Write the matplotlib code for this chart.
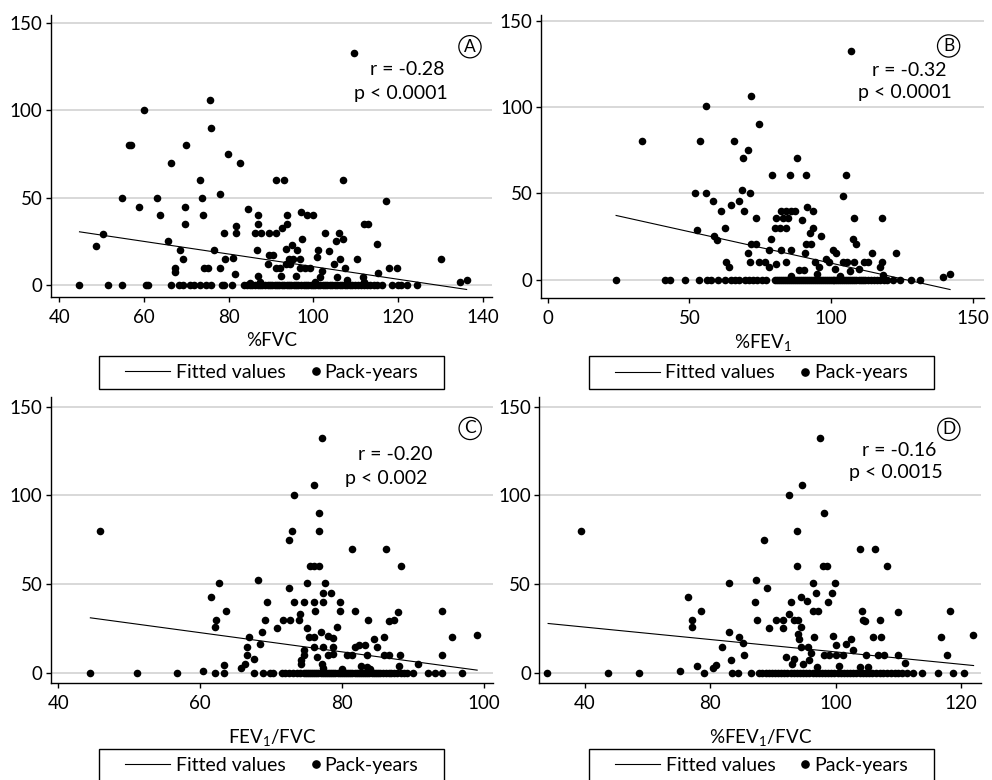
import numpy as np
import matplotlib.pyplot as plt
from matplotlib.patches import Rectangle
from matplotlib.lines import Line2D
from matplotlib.legend_handler import HandlerLine2D

plt.rcParams['font.family'] = ['Lato', 'DejaVu Sans']
plt.rcParams['mathtext.default'] = 'regular'
plt.rcParams['font.size'] = 13

# ---- panel A: %FVC vs pack-years ----
a_x = [109.7, 75.5, 60.0, 75.8, 56.4, 57.0, 70.0, 79.9, 66.5, 82.8, 73.2, 91.1, 93.0, 106.9,
       78.0, 54.8, 63.0, 73.7, 117.1, 58.9, 69.7, 84.7, 63.7, 74.0, 86.9, 93.8, 97.1, 98.6,
       100.0, 69.8, 81.7, 86.9, 93.8, 112.0, 112.8, 92.7, 78.8, 81.7, 86.3, 87.7, 89.5, 91.1,
       102.8, 106.0, 50.4, 65.7, 97.4, 105.3, 106.9, 48.8, 68.6, 76.6, 86.6, 93.6, 95.0, 96.1,
       101.1, 103.6, 115.1, 69.3, 79.1, 81.0, 89.5, 90.6, 94.3, 95.3, 96.9, 100.8, 110.4, 130.1,
       106.4, 67.4, 67.4, 74.1, 75.2, 78.0, 87.0, 91.1, 92.2, 89.2, 93.6, 94.5, 96.9, 98.0,
       99.3, 102.1, 104.8, 107.5, 119.7, 117.8, 81.5, 92.4, 95.8, 105.7, 115.2, 134.7, 136.2,
       101.5, 111.8, 100.5, 108.0, 112.0, 87.5, 85.0]
a_y = [132.5, 106, 100, 90, 80, 80, 80, 75, 70, 70, 60, 60, 60, 60,
       52, 50, 50, 50, 48, 45, 45, 43.5, 40, 40, 40, 40, 42, 40,
       40, 35, 34, 35, 35, 35, 35, 33, 30, 30, 30, 30, 30, 30,
       30, 30, 29.5, 25.5, 26.5, 25.5, 26.5, 22.5, 20, 20, 20, 21, 23, 20,
       20, 19.5, 23.5, 15, 15, 15.5, 17.5, 17.5, 15, 15, 15, 16.5, 15, 15,
       15, 10, 7.5, 10, 10, 10, 5.5, 10, 10, 12.5, 12.5, 12.5, 10, 10,
       10, 8.5, 12.5, 10, 10, 10, 6.5, 5.5, 5.5, 5, 7, 1.8, 3.3,
       5, 5, 2, 3, 2, 2, 1.5]
a_zero = [44.8, 51.6, 54.9, 60.5, 60.9, 66.3, 68.4, 69.3, 71.0, 71.8, 73.3, 74.7, 75.9, 78.4,
          79.0, 80.8, 83.6, 84.3, 85.0, 85.6, 86.2, 86.9, 87.5, 88.0, 88.6, 89.2, 89.8, 90.3,
          90.9, 91.5, 92.0, 92.6, 93.1, 93.7, 94.3, 94.8, 95.4, 96.0, 96.5, 97.1, 97.7, 98.2,
          98.8, 99.4, 99.9, 100.5, 101.1, 101.6, 102.2, 102.8, 103.3, 103.9, 104.5, 105.1,
          105.7, 106.2, 106.8, 107.4, 108.0, 108.6, 109.2, 109.8, 110.5, 111.2, 111.9, 112.6,
          113.4, 114.3, 115.1, 116.2, 118.5, 119.9, 120.7, 122.1, 124.6]
a_fit_x = [44.8, 136.2]
a_fit_y = [30.6, -2.3]

# ---- panel B: %FEV1 vs pack-years ----
b_x = [107.1, 71.8, 55.8, 74.6, 33.1, 53.6, 65.6, 70.8, 68.9, 88.1, 79.3, 85.4, 91.1, 105.1,
       68.5, 52.0, 55.8, 71.2, 104.1, 58.4, 64.6, 67.5, 61.1, 69.2, 82.4, 84.1, 85.9, 87.3,
       91.5, 93.6, 73.4, 80.4, 82.9, 84.9, 89.8, 108.0, 117.9, 62.7, 52.7, 80.2, 81.9, 84.1,
       93.5, 92.4, 96.5, 58.8, 59.8, 78.7, 107.6, 108.8, 91.2, 92.8, 71.8, 73.4, 70.7, 78.0,
       82.4, 85.9, 90.9, 100.6, 101.8, 114.4, 122.9, 63.0, 64.1, 71.2, 74.7, 76.5, 78.2, 80.7,
       84.1, 88.8, 90.5, 94.4, 95.9, 98.2, 99.4, 104.1, 105.6, 108.2, 111.6, 112.9, 117.9,
       117.1, 110.0, 101.4, 106.5, 139.4, 141.8, 118.2, 86.0, 95.0, 103.0]
b_y = [132.5, 106.5, 100.5, 90.5, 80.5, 80.5, 80.5, 75, 70.5, 70.5, 60.5, 60.5, 60.5, 60.5,
       52, 50.5, 50.5, 50.5, 48.5, 45.5, 43.5, 45.5, 40, 40, 40, 40, 40, 40,
       42, 40, 35.5, 35.5, 35.5, 35.5, 34.5, 35.5, 35.5, 30, 29, 30, 30, 30,
       30, 27, 25.5, 25.5, 23, 23.5, 23.5, 20.5, 20.5, 20.5, 20.5, 20.5, 15.5, 17,
       17, 17, 15.5, 17, 15.5, 15.5, 15.5, 10, 7.5, 10, 10, 10, 7.5, 9,
       10, 5.5, 5.5, 10, 7.5, 12, 10, 10, 10, 10, 10, 10, 10,
       7.5, 6, 6, 5, 1.5, 3.5, 2.5, 2, 3, 2]
b_zero = [24.0, 41.2, 43.2, 48.4, 53.5, 56.3, 57.5, 60.0, 62.4, 64.8, 66.2, 67.6, 69.6, 71.0,
          72.4, 73.8, 75.5, 77.0, 80.2, 80.9, 81.6, 82.3, 83.0, 83.7, 84.4, 85.1, 85.8, 86.5,
          87.2, 87.9, 88.6, 89.3, 90.0, 90.7, 91.4, 92.1, 92.8, 93.5, 94.2, 94.9, 95.6, 96.3,
          97.0, 97.7, 98.4, 99.1, 99.8, 100.5, 101.2, 101.9, 102.6, 103.3, 104.0, 104.7,
          105.4, 106.1, 106.8, 107.5, 108.2, 108.9, 109.7, 110.5, 111.3, 112.1, 113.0, 114.0,
          115.0, 116.1, 117.3, 118.5, 119.7, 121.9, 124.4, 128.2, 131.5]
b_fit_x = [24.1, 142.0]
b_fit_y = [37.2, -5.8]

# ---- panel C: FEV1/FVC vs pack-years ----
c_x = [77.2, 76.1, 73.2, 76.8, 45.9, 73.0, 76.8, 72.6, 81.5, 86.2, 75.5, 76.1, 76.8, 88.4,
       68.1, 62.7, 75.1, 77.6, 72.5, 77.3, 78.4, 61.5, 69.4, 73.3, 74.6, 76.1, 77.3, 79.8,
       63.6, 81.9, 76.2, 79.7, 87.9, 94.2, 62.3, 62.1, 69.1, 71.7, 72.7, 73.9, 74.1, 83.7,
       86.6, 87.3, 79.3, 70.8, 75.1, 68.7, 77.0, 66.9, 75.4, 76.1, 78.1, 78.8, 84.5, 85.9,
       95.6, 99.1, 68.4, 74.6, 74.6, 74.3, 74.3, 76.1, 77.4, 78.8, 81.8, 82.4, 83.3, 85.0,
       66.6, 66.6, 66.4, 67.6, 65.8, 63.4, 80.7, 81.5, 83.6, 85.9, 86.6, 88.2, 90.8, 94.2,
       78.1, 78.8, 82.7, 83.5, 88.0, 76.5, 77.2, 77.4, 60.4, 80.0, 84.0]
c_y = [132.5, 106, 100.5, 90, 80, 80, 80, 75, 70, 70, 60, 60, 60, 60,
       52.5, 50.5, 50.5, 50.5, 48, 45, 45, 43, 40, 40, 40, 40, 40, 40,
       35, 35, 35, 35, 34, 35, 30, 26, 30, 30, 30, 30, 33, 30,
       29, 30, 26, 25, 25, 23, 23, 20, 20, 20, 20.5, 19.5, 19, 20,
       20, 21.5, 16.5, 13, 10, 7, 5, 14.5, 14.5, 14.5, 14.5, 15.5, 15.5, 14.5,
       14.5, 10, 5, 7.5, 2.5, 4.5, 10, 10, 10, 10, 10, 10, 5, 10,
       10, 10.5, 4, 3.5, 4, 9, 5, 2.5, 1, 2, 2]
c_zero = [44.4, 51.1, 56.7, 62.1, 63.4, 67.6, 68.9, 69.8, 70.3, 71.5, 72.0, 72.6, 73.1, 73.6,
          74.1, 74.6, 74.9, 75.2, 75.5, 75.8, 76.1, 76.4, 76.7, 77.0, 77.3, 77.6, 77.9, 78.2,
          78.5, 78.8, 79.1, 79.4, 79.7, 80.0, 80.3, 80.6, 80.9, 81.2, 81.5, 81.8, 82.1, 82.4,
          82.7, 83.0, 83.3, 83.6, 83.9, 84.2, 84.5, 84.8, 85.1, 85.4, 85.8, 86.2, 86.6, 87.0,
          87.4, 87.8, 88.3, 88.8, 89.2, 90.1, 92.2, 93.1, 94.2, 97.0]
c_fit_x = [44.5, 99.1]
c_fit_y = [31.0, 1.5]

# ---- panel D: %FEV1/FVC vs pack-years ----
d_x = [97.5, 94.6, 92.6, 98.2, 59.3, 93.8, 88.6, 103.8, 106.3, 93.8, 97.9, 98.6, 108.2,
       87.3, 83.0, 96.3, 99.9, 89.1, 99.4, 96.9, 76.4, 94.5, 95.4, 92.9, 87.1, 98.7, 78.5,
       96.3, 97.1, 104.2, 109.9, 118.3, 77.0, 77.0, 87.4, 90.5, 91.6, 92.6, 93.4, 93.9,
       104.3, 104.7, 107.0, 89.4, 91.6, 94.5, 83.0, 93.9, 94.2, 84.6, 85.2, 96.6, 99.5,
       100.0, 102.4, 101.7, 105.9, 107.2, 116.8, 121.9, 81.8, 85.4, 83.3, 80.9, 80.4, 77.8,
       75.2, 92.0, 94.5, 95.6, 96.1, 95.8, 94.8, 98.1, 99.0, 100.0, 101.1, 102.7, 104.8,
       106.7, 107.7, 109.9, 111.1, 117.7, 103.9, 105.1, 93.0, 93.4, 97.0, 100.5]
d_y = [132.5, 106, 100.5, 90, 80, 80, 75, 70, 70, 60, 60, 60, 60,
       52.5, 50.5, 50.5, 50.5, 48, 45, 45, 43, 42.5, 40.5, 40, 40, 40, 35,
       35, 35, 35, 34, 35, 30, 26, 30, 30, 30, 33, 30, 30,
       30, 29, 30, 25, 25, 26, 23, 22, 19, 20, 17, 20, 20.5,
       15.5, 19, 16, 20, 20, 20, 21.5, 14.5, 10, 7, 4.5, 2.5, 4,
       1, 9, 14.5, 14.5, 11, 7, 5, 10, 10, 10, 10, 13, 10,
       10, 10, 10, 5.5, 10, 3.5, 3.5, 5, 8, 3, 4]
d_zero = [54.0, 63.7, 68.6, 79.0, 83.5, 84.4, 86.4, 87.8, 88.3, 88.8, 89.3, 89.8, 90.3, 90.8,
          91.3, 91.8, 92.3, 92.8, 93.3, 93.8, 94.3, 94.8, 95.3, 95.8, 96.3, 96.8, 97.3, 97.8,
          98.3, 98.8, 99.3, 99.8, 100.3, 100.8, 101.3, 101.8, 102.3, 102.8, 103.3, 103.8,
          104.3, 104.8, 105.3, 105.8, 106.4, 107.0, 107.6, 108.2, 108.8, 109.4, 110.0, 110.6,
          111.3, 112.3, 113.7, 116.4, 118.7, 120.4]
d_fit_x = [54.1, 122.0]
d_fit_y = [27.8, 4.1]

x_labels = ['%FVC', '%FEV$_1$', 'FEV$_1$/FVC', '%FEV$_1$/FVC']
letters = ['A', 'B', 'C', 'D']
r_texts = ['r = -0.28', 'r = -0.32', 'r = -0.20', 'r = -0.16']
p_texts = ['p < 0.0001', 'p < 0.0001', 'p < 0.002', 'p < 0.0015']

fig = plt.figure(figsize=(9.92, 7.8), dpi=100)

panels = [
    dict(pos=[0.0511, 0.619, 0.4449, 0.362], xlim=(38.0, 142.2), ylim=(-6.7, 154.4),
         xt=[40, 60, 80, 100, 120, 140], xtl=None, data=(a_x, a_y, a_zero, a_fit_x, a_fit_y),
         r=(0.807, 0.805), p=(0.794, 0.723), c=(0.950, 0.887), lab_pad=4,
         box=(0.1094, -0.326, 0.782, 0.117)),
    dict(pos=[0.5454, 0.618, 0.4466, 0.363], xlim=(-2.4, 154.0), ylim=(-10.7, 153.7),
         xt=[0, 50, 100, 150], xtl=None, data=(b_x, b_y, b_zero, b_fit_x, b_fit_y),
         r=(0.831, 0.805), p=(0.822, 0.724), c=(0.920, 0.890), lab_pad=4,
         box=(0.1077, -0.323, 0.779, 0.117)),
    dict(pos=[0.0511, 0.1247, 0.4456, 0.3659], xlim=(38.9, 101.3), ylim=(-5.6, 155.3),
         xt=[40, 60, 80, 100], xtl=None, data=(c_x, c_y, c_zero, c_fit_x, c_fit_y),
         r=(0.779, 0.798), p=(0.758, 0.716), c=(0.949, 0.891), lab_pad=11,
         box=(0.1094, -0.348, 0.781, 0.1156)),
    dict(pos=[0.5437, 0.1247, 0.4453, 0.3659], xlim=(52.7, 123.2), ylim=(-5.6, 155.3),
         xt=[60, 80, 100, 120], xtl=['40', '80', '100', '120'],
         data=(d_x, d_y, d_zero, d_fit_x, d_fit_y),
         r=(0.815, 0.815), p=(0.806, 0.736), c=(0.927, 0.888), lab_pad=11,
         box=(0.1118, -0.348, 0.782, 0.1156)),
]

for i, pn in enumerate(panels):
    ax = fig.add_axes(pn['pos'])
    px, py, pzero, fx, fy = pn['data']
    xs = np.concatenate([np.array(px), np.array(pzero)])
    ys = np.concatenate([np.array(py), np.zeros(len(pzero))])

    ax.plot(fx, fy, color='black', lw=0.8, zorder=2)
    ax.scatter(xs, ys, s=30, color='black', linewidths=0, zorder=3)

    ax.set_xlim(*pn['xlim'])
    ax.set_ylim(*pn['ylim'])
    ax.set_yticks([0, 50, 100, 150])
    if pn['xtl'] is None:
        ax.set_xticks(pn['xt'])
    else:
        ax.set_xticks(pn['xt'], labels=pn['xtl'])
    ax.yaxis.grid(True, color='#d2d2d2', lw=1.2)
    ax.set_axisbelow(True)
    for s in ['top', 'right']:
        ax.spines[s].set_visible(False)
    for s in ['left', 'bottom']:
        ax.spines[s].set_linewidth(1.0)
    ax.tick_params(direction='out', length=3.5, width=1.0, labelsize=13.5)
    ax.tick_params(axis='x', pad=5)
    ax.tick_params(axis='y', pad=2.5)
    ax.set_xlabel(x_labels[i], fontsize=13.5, labelpad=pn['lab_pad'])

    ax.text(*pn['r'], r_texts[i], transform=ax.transAxes, ha='center', va='center', fontsize=14)
    ax.text(*pn['p'], p_texts[i], transform=ax.transAxes, ha='center', va='center', fontsize=14)
    ax.text(*pn['c'], letters[i], transform=ax.transAxes, ha='center', va='center', fontsize=12.5,
            bbox=dict(boxstyle='circle,pad=0.18', fc='white', ec='black', lw=0.9))

    # legend box below each panel
    bx, by, bw, bh = pn['box']
    ax.add_patch(Rectangle((bx, by), bw, bh, transform=ax.transAxes, fill=False,
                           ec='black', lw=1.0, clip_on=False))
    h_line = Line2D([], [], color='black', lw=0.8)
    h_dot = Line2D([], [], color='black', marker='o', ms=5.2, ls='none')
    ax.legend([h_line, h_dot], ['Fitted values', 'Pack-years'], loc='center',
              bbox_to_anchor=(bx + bw / 2, by + bh / 2), ncol=2, frameon=False,
              fontsize=14, handlelength=2.3, handletextpad=0.3, columnspacing=-0.6,
              borderaxespad=0,
              handler_map={h_dot: HandlerLine2D(numpoints=1, xpad=2.0)})

fig.savefig('out.png', dpi=100)
